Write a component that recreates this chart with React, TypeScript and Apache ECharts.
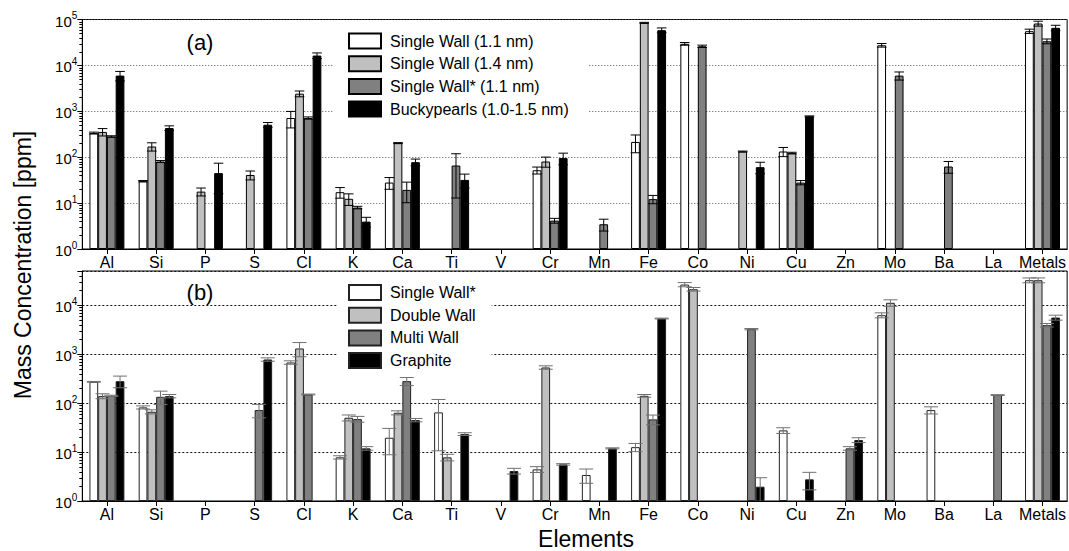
import React, { useEffect, useRef } from 'react';
import * as echarts from 'echarts';

const FONT = '"Liberation Sans", Arial, sans-serif';

const categories = ['Al', 'Si', 'P', 'S', 'Cl', 'K', 'Ca', 'Ti', 'V', 'Cr', 'Mn', 'Fe', 'Co', 'Ni', 'Cu', 'Zn', 'Mo', 'Ba', 'La', 'Metals'];

const namesA = ['Single Wall (1.1 nm)', 'Single Wall (1.4 nm)', 'Single Wall* (1.1 nm)', 'Buckypearls (1.0-1.5 nm)'];
const namesB = ['Single Wall*', 'Double Wall', 'Multi Wall', 'Graphite'];
const fillColors = ['#ffffff', '#c0c0c0', '#808080', '#000000'];

// Panel (a)
const aSingle11 = [336, 30, null, null, 714, 17.3, 28, null, null, 52, null, 215, 29500, null, 133, null, 27500, null, null, 55600];
const aSingle11Err = [16, 1, null, null, 280, 4.5, 8, null, null, 9, null, 90, 2000, null, 30, null, 2500, null, null, 6000];
const aSingle14 = [355, 171, 17.8, 41, 2420, 12.4, 203, null, null, 80.5, null, 84700, null, 133, 123, null, null, null, null, 81800];
const aSingle14Err = [65, 35, 3.5, 9, 350, 3.5, 5, null, null, 20, null, 2000, null, 3, 5, null, null, null, null, 10000];
const aSingleStar = [283, 80.5, null, null, 714, 8.0, 19.4, 65.9, null, 4.15, 3.46, 12.2, 26100, null, 28, null, 5990, 62.7, null, 33600];
const aSingleStarErr = [10, 4, null, null, 40, 0.5, 9.2, 53, null, 0.5, 1.0, 2.5, 1500, null, 3, null, 1200, 18, null, 4000];
const aBucky = [5990, 432, 45, 510, 16400, 3.95, 78, 32, null, 95.5, null, 58500, null, 60.6, 774, null, null, null, null, 65800];
const aBuckyErr = [1400, 50, 29, 60, 2300, 0.95, 13, 10.8, null, 27, null, 7000, null, 17, 20, null, null, null, null, 9000];

// Panel (b)
const bSingleStar = [272, 81.7, null, null, 676, 7.8, 19.6, 64.6, null, 4.43, 3.4, 12.6, 26400, null, 27.7, null, 6250, 72, null, 32400];
const bSingleStarErr = [5, 6, null, null, 55, 0.6, 10.8, 54, null, 0.6, 1.1, 2.4, 2600, null, 3.7, null, 730, 12, null, 3700];
const bDouble = [139, 66.5, null, null, 1306, 50.2, 63.5, 7.8, null, 535, null, 141, 21200, null, null, null, 11200, null, null, 32400];
const bDoubleErr = [16, 6.5, null, null, 420, 7, 6, 1.2, null, 43, null, 9, 1800, null, null, null, 1700, null, null, 3700];
const bMulti = [141, 134.5, null, 72, 150, 47.1, 281, null, null, null, null, 46.5, null, 3240, null, 11.9, null, null, 146, 3910];
const bMultiErr = [4, 41, null, 22, 3, 6.4, 53, null, null, null, null, 10.5, null, 100, null, 1, null, null, 3, 320];
const bGraphite = [281, 139, null, 779, null, 11.9, 45, 23.3, 4.1, 5.6, 11.9, 5350, null, 1.96, 2.77, 17.6, null, null, null, 5600];
const bGraphiteErr = [75, 11, null, 62, null, 1, 3.6, 1.5, 0.55, 0.2, 0.3, 100, null, 1.03, 1.08, 2, null, null, null, 650];

const yMaxA = 100000;
const yMaxB = 50000;
const decades = [1, 10, 100, 1000, 10000];
const minorSteps = [2, 3, 4, 5, 6, 7, 8, 9];

const BAR_GAP = 0.29;

function minorTicks(max: number) {
  const out: number[][] = [];
  decades.forEach((d) => minorSteps.forEach((m) => { if (d * m < max) out.push([0, d * m]); }));
  return out;
}

function barSeries(name: string, values: (number | null)[], slot: number, axis: number, border: string) {
  return {
    type: 'bar',
    name,
    xAxisIndex: axis,
    yAxisIndex: axis,
    data: values.map((v) => (v == null ? '-' : v)),
    barGap: '0%',
    barCategoryGap: BAR_GAP * 100 + '%',
    itemStyle: { color: fillColors[slot], borderColor: border, borderWidth: 1 },
    emphasis: { disabled: true },
    silent: true,
    z: 2,
  };
}

function errSeries(values: (number | null)[], errs: (number | null)[], slot: number, axis: number, color: string, capScale: number) {
  const data: number[][] = [];
  values.forEach((v, i) => {
    const e = errs[i];
    if (v != null && e != null) data.push([i, v, e]);
  });
  return {
    type: 'custom',
    xAxisIndex: axis,
    yAxisIndex: axis,
    data,
    encode: { x: 0, y: 1 },
    silent: true,
    clip: false,
    z: 3,
    renderItem: (params: any, api: any) => {
      const i = api.value(0);
      const v = api.value(1);
      const e = api.value(2);
      const band = api.size([1, 1])[0];
      const bw = (band * (1 - BAR_GAP)) / 4;
      const x = api.coord([i, v])[0] + (slot - 1.5) * bw;
      const yTop = api.coord([i, v + e])[1];
      const cs = params.coordSys;
      const lo = v - e;
      const yBot = lo > 1 ? api.coord([i, lo])[1] : cs.y + cs.height;
      const hw = (bw * capScale) / 2;
      const st = { stroke: color, lineWidth: 1 };
      const children: any[] = [
        { type: 'line', shape: { x1: x, y1: yTop, x2: x, y2: yBot }, style: st },
        { type: 'line', shape: { x1: x - hw, y1: yTop, x2: x + hw, y2: yTop }, style: st },
      ];
      if (lo > 1) children.push({ type: 'line', shape: { x1: x - hw, y1: yBot, x2: x + hw, y2: yBot }, style: st });
      return { type: 'group', children };
    },
  };
}

function minorTickSeries(axis: number, max: number) {
  return {
    type: 'custom',
    xAxisIndex: axis,
    yAxisIndex: axis,
    data: minorTicks(max),
    encode: { x: 0, y: 1 },
    silent: true,
    clip: false,
    z: 4,
    renderItem: (params: any, api: any) => {
      const y = Math.round(api.coord([0, api.value(1)])[1]) + 0.5;
      const x = params.coordSys.x;
      return { type: 'line', shape: { x1: x - 3, y1: y, x2: x, y2: y }, style: { stroke: '#000', lineWidth: 1 } };
    },
  };
}

function yLabel(v: number) {
  const l = Math.log10(v);
  const e = Math.round(l);
  if (Math.abs(l - e) > 1e-6) return '';
  return '{b|10}{s|' + e + '}';
}

function yAxis(axis: number, max: number, dash: number[], color: string) {
  return {
    type: 'log',
    logBase: 10,
    gridIndex: axis,
    min: 1,
    max,
    splitNumber: 5,
    axisLine: { show: true, lineStyle: { color: '#000', width: 1 } },
    axisTick: { show: true, length: 5, lineStyle: { color: '#000', width: 1 } },
    axisLabel: {
      formatter: yLabel,
      margin: 5,
      color: '#000',
      rich: {
        b: { fontSize: 15, fontFamily: FONT, color: '#000', lineHeight: 18, verticalAlign: 'bottom' },
        s: { fontSize: 10, fontFamily: FONT, color: '#000', lineHeight: 18, verticalAlign: 'top', padding: [0, 0, 6, 0] },
      },
    },
    splitLine: { show: true, lineStyle: { type: dash, color, width: 1 } },
  };
}

function xAxis(axis: number) {
  return {
    type: 'category',
    gridIndex: axis,
    data: categories,
    axisLine: { show: true, lineStyle: { color: '#000', width: 1 } },
    axisTick: { show: true, alignWithLabel: true, length: 5, lineStyle: { color: '#000' } },
    axisLabel: { interval: 0, fontSize: 16, fontFamily: FONT, color: '#000', margin: 5 },
    splitLine: { show: false },
  };
}

function legend(names: string[], left: number, top: number, padding: number[]) {
  return {
    data: names,
    orient: 'vertical',
    left,
    top,
    itemWidth: 32,
    itemHeight: 15,
    itemGap: 5.7,
    icon: 'rect',
    selectedMode: false,
    backgroundColor: '#ffffff',
    padding,
    textStyle: { fontSize: 16, fontFamily: FONT, color: '#000', lineHeight: 16, padding: [0, 0, 0, 4] },
  };
}

export default function App() {
  const ref = useRef<HTMLDivElement>(null);
  useEffect(() => {
    if (!ref.current) return;
    const chart = echarts.init(ref.current, undefined, { renderer: 'svg' });
    const option: any = {
      animation: false,
      backgroundColor: '#ffffff',
      textStyle: { fontFamily: FONT },
      grid: [
        { left: 82.3, right: -1.5, top: 19.5, height: 229.5, show: true, borderColor: '#000', borderWidth: 1, backgroundColor: 'transparent' },
        { left: 82.3, right: -1.5, top: 271, height: 230, show: true, borderColor: '#000', borderWidth: 1, backgroundColor: 'transparent' },
      ],
      xAxis: [xAxis(0), xAxis(1)],
      yAxis: [yAxis(0, yMaxA, [1, 2], '#555'), yAxis(1, yMaxB, [2, 2], '#111')],
      legend: [
        legend(namesA, 333, 24.5, [8, 20, 8, 15]),
        legend(namesB, 338, 276, [8, 16, 8, 10]),
      ],
      series: [
        barSeries(namesA[0], aSingle11, 0, 0, '#000'),
        barSeries(namesA[1], aSingle14, 1, 0, '#000'),
        barSeries(namesA[2], aSingleStar, 2, 0, '#000'),
        barSeries(namesA[3], aBucky, 3, 0, '#000'),
        barSeries(namesB[0], bSingleStar, 0, 1, '#222'),
        barSeries(namesB[1], bDouble, 1, 1, '#222'),
        barSeries(namesB[2], bMulti, 2, 1, '#222'),
        barSeries(namesB[3], bGraphite, 3, 1, '#222'),
        errSeries(aSingle11, aSingle11Err, 0, 0, '#000', 1.1),
        errSeries(aSingle14, aSingle14Err, 1, 0, '#000', 1.1),
        errSeries(aSingleStar, aSingleStarErr, 2, 0, '#000', 1.1),
        errSeries(aBucky, aBuckyErr, 3, 0, '#000', 1.1),
        errSeries(bSingleStar, bSingleStarErr, 0, 1, '#707070', 1.6),
        errSeries(bDouble, bDoubleErr, 1, 1, '#707070', 1.6),
        errSeries(bMulti, bMultiErr, 2, 1, '#707070', 1.6),
        errSeries(bGraphite, bGraphiteErr, 3, 1, '#707070', 1.6),
        minorTickSeries(0, yMaxA),
        minorTickSeries(1, yMaxB),
      ],
      graphic: [
        { type: 'text', x: 200, y: 42, style: { text: '(a)', fontSize: 22, fontFamily: FONT, fill: '#000', align: 'center', verticalAlign: 'middle' } },
        { type: 'text', x: 200, y: 292, style: { text: '(b)', fontSize: 22, fontFamily: FONT, fill: '#000', align: 'center', verticalAlign: 'middle' } },
        { type: 'text', x: 586, y: 539, style: { text: 'Elements', fontSize: 23, lineHeight: 20, fontFamily: FONT, fill: '#000', align: 'center', verticalAlign: 'middle' } },
        { type: 'text', x: 23, y: 265, rotation: Math.PI / 2, style: { text: 'Mass Concentration [ppm]', fontSize: 23, fontFamily: FONT, fill: '#000', align: 'center', verticalAlign: 'middle' } },
      ],
    };
    chart.setOption(option);
    return () => chart.dispose();
  }, []);
  return <div ref={ref} style={{ position: 'absolute', left: 0, top: 0, width: 1069, height: 551, background: '#fff' }} />;
}
